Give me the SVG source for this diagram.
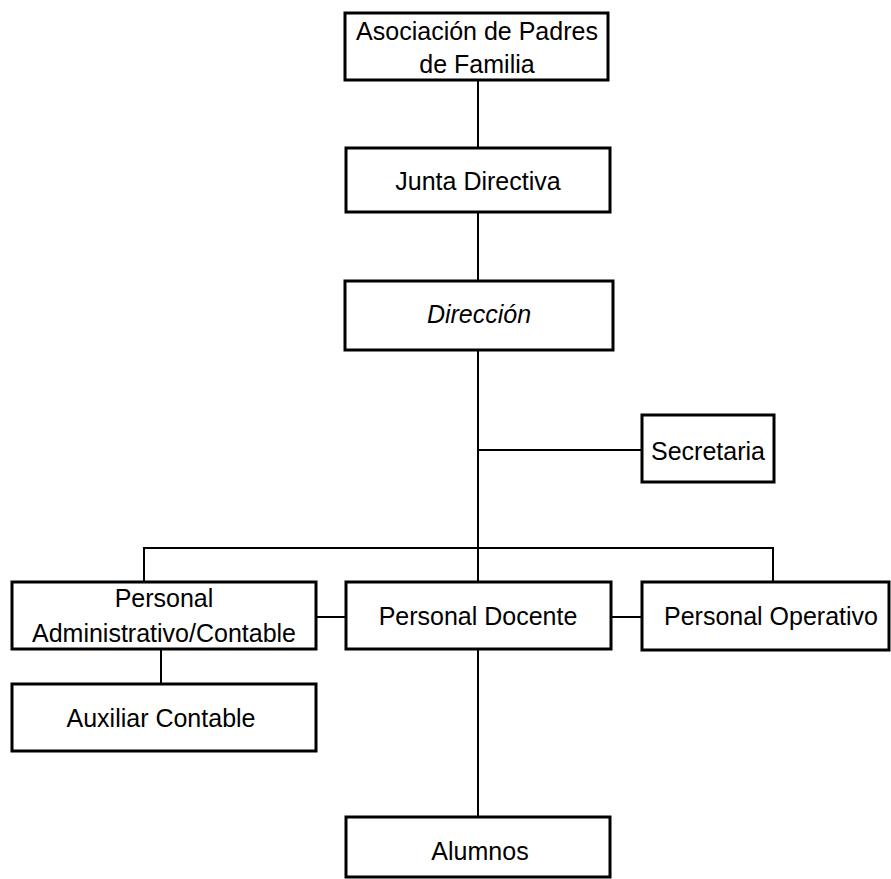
<svg xmlns="http://www.w3.org/2000/svg" width="891" height="879" viewBox="0 0 891 879">
<style>
.box{fill:#fff;stroke:#000;stroke-width:3}
.t{font-family:"Liberation Sans",Arial,sans-serif;font-size:25px;fill:#000;text-anchor:middle}
.c{stroke:#000;stroke-width:2;fill:none}
</style>
<rect width="891" height="879" fill="#fff"/>
<g id="connectors">
<line class="c" x1="478" y1="80" x2="478" y2="148"/>
<line class="c" x1="478" y1="212" x2="478" y2="281"/>
<line class="c" x1="478" y1="350" x2="478" y2="582"/>
<line class="c" x1="478" y1="450" x2="642" y2="450"/>
<polyline class="c" points="144,582 144,548 773,548 773,582"/>
<line class="c" x1="316" y1="617" x2="346" y2="617"/>
<line class="c" x1="611" y1="617" x2="642" y2="617"/>
<line class="c" x1="161" y1="649" x2="161" y2="684"/>
<line class="c" x1="478" y1="649" x2="478" y2="817"/>
</g>
<g id="asociacion">
<rect class="box" x="345" y="13" width="263" height="67"/>
<text class="t" x="477" y="40">Asociación de Padres</text>
<text class="t" x="477" y="73">de Familia</text>
</g>
<g id="junta">
<rect class="box" x="346" y="148" width="264" height="64"/>
<text class="t" x="478" y="190">Junta Directiva</text>
</g>
<g id="direccion">
<rect class="box" x="345" y="281" width="268" height="69"/>
<text class="t" x="479" y="323" font-style="italic">Dirección</text>
</g>
<g id="secretaria">
<rect class="box" x="642" y="415" width="132" height="67"/>
<text class="t" x="708" y="460">Secretaria</text>
</g>
<g id="personal-administrativo">
<rect class="box" x="12" y="582" width="304" height="67"/>
<text class="t" x="164" y="607">Personal</text>
<text class="t" x="164" y="642">Administrativo/Contable</text>
</g>
<g id="personal-docente">
<rect class="box" x="346" y="582" width="265" height="67"/>
<text class="t" x="478" y="625">Personal Docente</text>
</g>
<g id="personal-operativo">
<rect class="box" x="642" y="582" width="247" height="68"/>
<text class="t" x="771" y="625">Personal Operativo</text>
</g>
<g id="auxiliar-contable">
<rect class="box" x="12" y="684" width="304" height="67"/>
<text class="t" x="161" y="727">Auxiliar Contable</text>
</g>
<g id="alumnos">
<rect class="box" x="346" y="817" width="264" height="60"/>
<text class="t" x="480" y="860">Alumnos</text>
</g>
</svg>
